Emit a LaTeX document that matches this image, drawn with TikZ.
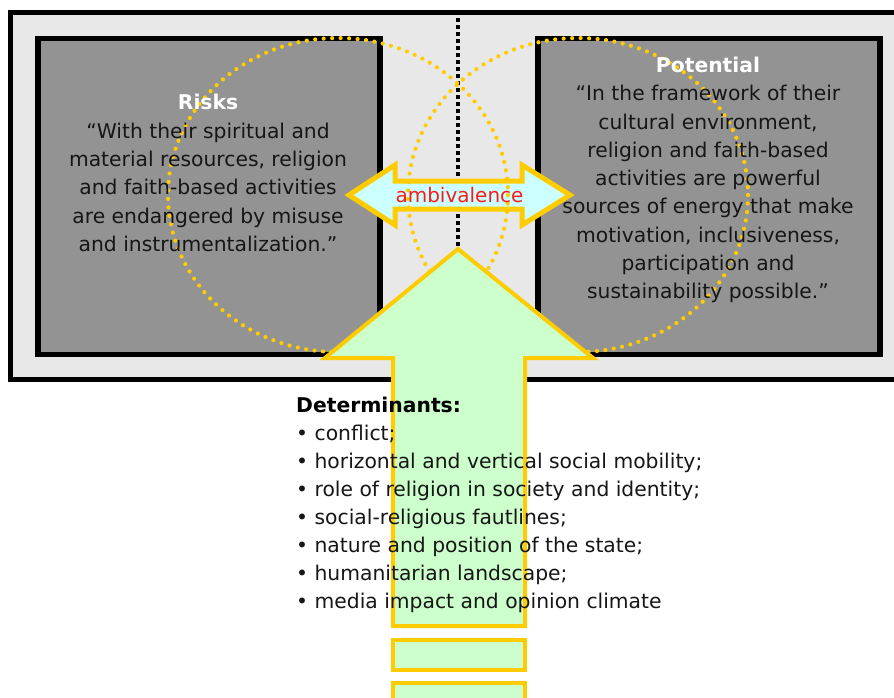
\documentclass[tikz,border=0pt]{standalone}
\usepackage{fontspec}
\setmainfont{DejaVu Sans}
\definecolor{panelgrey}{HTML}{E8E8E8}
\definecolor{boxgrey}{HTML}{939393}
\definecolor{gold}{HTML}{FFCC00}
\definecolor{mint}{HTML}{CCFFCC}
\definecolor{palecyan}{HTML}{CCFFFF}
\definecolor{ink}{HTML}{161616}
\definecolor{alertred}{HTML}{FF1A1A}
\tikzset{
  panel/.style={draw=black, line width=5pt, fill=panelgrey},
  quotebox/.style={draw=black, line width=5.5pt, fill=boxgrey, inner sep=0pt,
    minimum width=342pt, minimum height=316pt},
  zone/.style={draw=gold, line width=4.2pt, line cap=round, dash pattern=on 0pt off 8.5pt},
  divider/.style={draw=black, line width=4pt, dash pattern=on 4pt off 3pt},
  goldarrow/.style={draw=gold, line join=miter},
  quotetext/.style={text=ink, align=center, inner sep=0pt,
    font=\fontsize{20.3pt}{28.3pt}\selectfont},
  listtext/.style={text=ink, align=left, inner sep=0pt,
    font=\fontsize{20.3pt}{28pt}\selectfont},
}
\begin{document}
\begin{tikzpicture}[x=1pt,y=-1pt]
\useasboundingbox (0,0) rectangle (894,697);
\clip (0,0) rectangle (894,697);

% outer frame (runs past the right edge)
\draw[panel] (10.5,12.5) rectangle (960,379.5);

% the two quotation boxes
\node[quotebox] (risksbox) at (209,196.5) {};
\node[quotebox] (potentialbox) at (709,196.5) {};

% dotted divider
\coordinate (divtop) at (458,18);
\coordinate (divbot) at (458,249);
\draw[divider] (divtop) -- (divbot);

% double arrow between risks and potential
\draw[goldarrow, line width=5pt, fill=palecyan]
  (349,195) -- (395,165) -- (395,181) -- (522,181) -- (522,165) -- (570,195)
  -- (522,225) -- (522,209) -- (395,209) -- (395,225) -- cycle;

% overlapping dotted zones
\draw[zone] (338,195) ellipse [x radius=170, y radius=157];
\draw[zone] (578,195) ellipse [x radius=170, y radius=157];

\node[text=alertred, inner sep=0pt, font=\fontsize{20pt}{24pt}\selectfont]
  (ambivalence) at (459.5,195) {ambivalence};

% large upward arrow
\draw[goldarrow, line width=4pt, fill=mint]
  (458,249) -- (593,358) -- (525,358) -- (525,626) -- (393,626)
  -- (393,358) -- (325,358) -- cycle;
\draw[goldarrow, line width=4pt, fill=mint] (393,640) rectangle (525,670);
\draw[goldarrow, line width=4pt, fill=mint] (393,683) rectangle (525,720);

% texts
\node[quotetext] (riskstext) at (208,173) {%
  {\color{white}\bfseries Risks}\\
  “With their spiritual and\\
  material resources, religion\\
  and faith-based activities\\
  are endangered by misuse\\
  and instrumentalization.”};

\node[quotetext] (potentialtext) at (708,180) {%
  {\color{white}\bfseries Potential}\\
  “In the framework of their\\
  cultural environment,\\
  religion and faith-based\\
  activities are powerful\\
  sources of energy that make\\
  motivation, inclusiveness,\\
  participation and\\
  sustainability possible.”};

\node[listtext, anchor=west] (determinants) at (296,505) {%
  {\color{black}\bfseries Determinants:}\\
  • conflict;\\
  • horizontal and vertical social mobility;\\
  • role of religion in society and identity;\\
  • social-religious fautlines;\\
  • nature and position of the state;\\
  • humanitarian landscape;\\
  • media impact and opinion climate};
\end{tikzpicture}
\end{document}
